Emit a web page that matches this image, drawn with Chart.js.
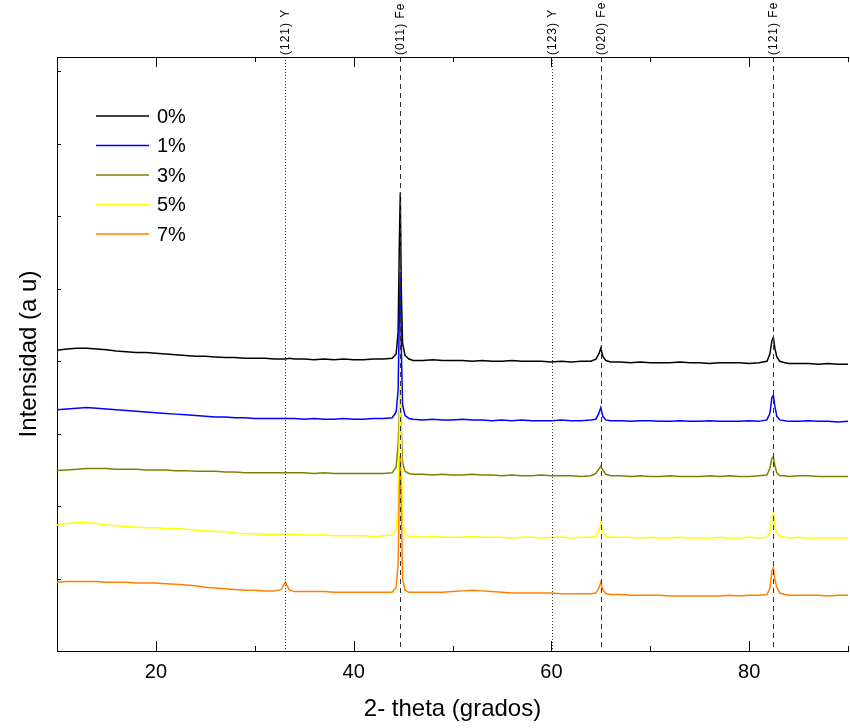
<!DOCTYPE html>
<html>
<head>
<meta charset="utf-8">
<script src="https://cdn.jsdelivr.net/npm/chart.js@4/dist/chart.umd.min.js"></script>
<style>
  body { margin: 0; background: #fff; }
  canvas { display: block; }
</style>
</head>
<body>
<canvas id="xrd" width="850" height="728"></canvas>
<script>
// 2-theta positions (degrees), shared by every pattern
var theta = [
  10, 11, 12, 13, 14, 15, 16, 17, 18, 19, 20, 21, 22, 23, 24, 25, 26, 27, 28, 29, 30, 31, 32,
  32.7, 33.1, 33.5,
  34, 35, 36, 37, 38, 39, 40, 41, 42, 43,
  43.9, 44.3, 44.5, 44.62, 44.72, 44.82, 44.95, 45.2, 45.6,
  46, 47, 48, 49, 50, 51, 52, 53, 54, 55, 56, 57, 58, 59, 60, 61, 62, 63, 64,
  64.5, 64.8, 65.0, 65.2, 65.5,
  66, 67, 68, 69, 70, 71, 72, 73, 74, 75, 76, 77, 78, 79, 80, 81,
  81.8, 82.1, 82.3, 82.45, 82.6, 82.8, 83.1, 83.6,
  84, 85, 86, 87, 88, 89, 90
];

var labels = ['0%', '1%', '3%', '5%', '7%'];
var colors = ['#000000', '#0000ff', '#808000', '#ffff00', '#ff8000'];

var int0 = [
  4.15, 4.17, 4.18, 4.18, 4.17, 4.16, 4.14, 4.13, 4.12, 4.12, 4.11, 4.10, 4.09, 4.08, 4.07, 4.07, 4.06, 4.05, 4.05, 4.04, 4.04, 4.04, 4.03,
  4.03, 4.03, 4.04,
  4.03, 4.03, 4.02, 4.03, 4.02, 4.03, 4.02, 4.02, 4.03, 4.03,
  4.04, 4.10, 4.40, 5.60, 6.33, 5.00, 4.25, 4.08, 4.03,
  4.01, 4.01, 4.02, 4.01, 4.01, 4.01, 4.00, 4.01, 4.00, 4.00, 4.01, 4.00, 4.00, 4.00, 3.99, 4.00, 3.99, 4.00, 4.00,
  4.03, 4.10, 4.18, 4.07, 4.01,
  3.99, 3.99, 3.98, 3.99, 3.98, 3.98, 3.98, 3.99, 3.98, 3.98, 3.97, 3.98, 3.98, 3.98, 3.97, 3.98,
  4.00, 4.10, 4.28, 4.33, 4.18, 4.06, 4.00, 3.98,
  3.97, 3.97, 3.97, 3.96, 3.97, 3.96, 3.96
];
var int1 = [
  3.33, 3.34, 3.35, 3.36, 3.35, 3.34, 3.33, 3.32, 3.31, 3.30, 3.29, 3.28, 3.27, 3.26, 3.25, 3.24, 3.23, 3.23, 3.22, 3.22, 3.21, 3.21, 3.21,
  3.21, 3.21, 3.21,
  3.21, 3.20, 3.21, 3.20, 3.20, 3.21, 3.20, 3.20, 3.21, 3.21,
  3.22, 3.30, 3.60, 4.60, 5.23, 4.20, 3.40, 3.25, 3.21,
  3.20, 3.19, 3.20, 3.19, 3.19, 3.20, 3.19, 3.19, 3.18, 3.19, 3.18, 3.19, 3.18, 3.18, 3.18, 3.19, 3.18, 3.18, 3.19,
  3.20, 3.28, 3.36, 3.24, 3.19,
  3.18, 3.18, 3.17, 3.18, 3.18, 3.17, 3.17, 3.18, 3.17, 3.17, 3.18, 3.17, 3.17, 3.17, 3.18, 3.17,
  3.19, 3.28, 3.50, 3.53, 3.38, 3.24, 3.19, 3.18,
  3.17, 3.17, 3.18, 3.17, 3.17, 3.16, 3.17
];
var int3 = [
  2.49, 2.50, 2.51, 2.52, 2.52, 2.52, 2.51, 2.51, 2.51, 2.50, 2.50, 2.50, 2.49, 2.49, 2.48, 2.48, 2.48, 2.47, 2.47, 2.46, 2.46, 2.46, 2.46,
  2.46, 2.46, 2.46,
  2.46, 2.46, 2.45, 2.46, 2.45, 2.45, 2.45, 2.45, 2.45, 2.45,
  2.46, 2.54, 2.85, 3.30, 3.61, 3.10, 2.60, 2.48, 2.45,
  2.44, 2.44, 2.43, 2.44, 2.43, 2.43, 2.44, 2.43, 2.43, 2.42, 2.43, 2.42, 2.42, 2.43, 2.42, 2.42, 2.42, 2.41, 2.42,
  2.45, 2.51, 2.55, 2.50, 2.44,
  2.42, 2.42, 2.41, 2.42, 2.41, 2.41, 2.42, 2.41, 2.41, 2.41, 2.42, 2.41, 2.42, 2.41, 2.41, 2.42,
  2.43, 2.52, 2.66, 2.68, 2.56, 2.46, 2.42, 2.42,
  2.41, 2.42, 2.42, 2.41, 2.41, 2.41, 2.41
];
var int5 = [
  1.74, 1.76, 1.77, 1.77, 1.76, 1.74, 1.73, 1.72, 1.71, 1.70, 1.70, 1.69, 1.69, 1.68, 1.67, 1.66, 1.65, 1.65, 1.63, 1.62, 1.62, 1.61, 1.61,
  1.61, 1.62, 1.61,
  1.61, 1.60, 1.60, 1.60, 1.59, 1.59, 1.59, 1.59, 1.58, 1.59,
  1.60, 1.68, 2.00, 3.00, 3.75, 2.90, 1.80, 1.62, 1.58,
  1.58, 1.57, 1.58, 1.57, 1.57, 1.57, 1.58, 1.57, 1.57, 1.57, 1.56, 1.57, 1.57, 1.56, 1.57, 1.57, 1.56, 1.57, 1.57,
  1.58, 1.66, 1.76, 1.64, 1.58,
  1.57, 1.57, 1.57, 1.56, 1.57, 1.56, 1.56, 1.57, 1.56, 1.56, 1.56, 1.57, 1.56, 1.56, 1.57, 1.56,
  1.57, 1.64, 1.86, 1.91, 1.72, 1.62, 1.58, 1.57,
  1.56, 1.57, 1.56, 1.56, 1.56, 1.56, 1.56
];
var int7 = [
  0.95, 0.96, 0.96, 0.96, 0.96, 0.95, 0.95, 0.95, 0.94, 0.94, 0.94, 0.93, 0.92, 0.91, 0.90, 0.88, 0.87, 0.86, 0.85, 0.84, 0.84, 0.83, 0.83,
  0.85, 0.95, 0.84,
  0.82, 0.82, 0.82, 0.82, 0.81, 0.81, 0.81, 0.81, 0.81, 0.81,
  0.81, 0.88, 1.20, 2.20, 2.70, 2.00, 1.00, 0.84, 0.81,
  0.81, 0.81, 0.81, 0.81, 0.82, 0.83, 0.84, 0.83, 0.82, 0.81, 0.80, 0.80, 0.80, 0.80, 0.80, 0.79, 0.79, 0.79, 0.79,
  0.80, 0.87, 0.95, 0.85, 0.79,
  0.78, 0.78, 0.77, 0.77, 0.77, 0.77, 0.76, 0.76, 0.76, 0.76, 0.76, 0.76, 0.77, 0.76, 0.77, 0.77,
  0.78, 0.86, 1.10, 1.15, 0.98, 0.88, 0.80, 0.78,
  0.77, 0.77, 0.77, 0.77, 0.76, 0.77, 0.77
];

// reference reflections drawn as vertical lines
var refPos = [33.1, 44.7, 60.1, 65.0, 82.4];
var refText = ['(121) Y', '(011) Fe', '(123) Y', '(020) Fe', '(121) Fe'];
var refDotted = [true, false, true, false, false];

var series = [int0, int1, int3, int5, int7];

var datasets = series.map(function(s, i) {
  return {
    label: labels[i],
    data: s.map(function(v, j) { return {x: theta[j], y: v}; }),
    borderColor: colors[i],
    backgroundColor: colors[i],
    borderWidth: 1.5,
    pointRadius: 0,
    tension: 0,
    order: series.length - i
  };
});

var decor = {
  id: 'decor',
  afterDatasetsDraw: function(chart) {
    var c = chart.ctx, a = chart.chartArea;
    var xs = chart.scales.x, ys = chart.scales.y;
    c.save();

    // reference lines + labels
    refPos.forEach(function(p, i) {
      var px = Math.round(xs.getPixelForValue(p)) + 0.5;
      c.strokeStyle = '#333';
      c.lineWidth = 1;
      c.setLineDash(refDotted[i] ? [1, 2] : [5, 4]);
      c.beginPath();
      c.moveTo(px, a.top);
      c.lineTo(px, a.bottom);
      c.stroke();
      c.setLineDash([]);
      c.save();
      c.translate(px + 3, a.top - 2);
      c.rotate(-Math.PI / 2);
      c.fillStyle = '#000';
      c.font = '12px Arial, "Liberation Sans", sans-serif';
      c.letterSpacing = '1px';
      c.textAlign = 'left';
      c.textBaseline = 'alphabetic';
      c.fillText(refText[i], 0, 0);
      c.restore();
    });

    // frame: top line and inward ticks
    c.strokeStyle = '#000';
    c.lineWidth = 1;
    c.beginPath();
    c.moveTo(a.left, a.top + 0.5);
    c.lineTo(a.right, a.top + 0.5);
    for (var v = 20; v <= 90; v += 10) {
      var tx = Math.round(xs.getPixelForValue(v)) + 0.5;
      var len = (v % 20 === 0) ? 10 : 5;
      c.moveTo(tx, a.bottom);
      c.lineTo(tx, a.bottom - len);
      c.moveTo(tx, a.top);
      c.lineTo(tx, a.top + len);
    }
    for (var k = 1; k <= 8; k++) {
      var ty = Math.round(ys.getPixelForValue(k)) + 0.5;
      c.moveTo(a.left, ty);
      c.lineTo(a.left + 4, ty);
    }
    c.stroke();

    // legend inside the plot
    c.font = '20px Arial, "Liberation Sans", sans-serif';
    c.textBaseline = 'middle';
    c.textAlign = 'left';
    chart.data.datasets.forEach(function(d, i) {
      var ly = 116 + i * 29.5;
      c.strokeStyle = d.borderColor;
      c.lineWidth = 1.3;
      c.beginPath();
      c.moveTo(96, ly);
      c.lineTo(149, ly);
      c.stroke();
      c.fillStyle = '#000';
      c.fillText(d.label, 157, ly + 1);
    });
    c.restore();
  }
};

var ctx = document.getElementById('xrd');
var xrdChart = new Chart(ctx, {
  type: 'line',
  data: { datasets: datasets },
  options: {
    responsive: false,
    animation: false,
    layout: { padding: { top: 57, right: 2, left: 0, bottom: 0 } },
    plugins: { legend: { display: false }, tooltip: { enabled: false } },
    scales: {
      x: {
        type: 'linear',
        min: 10,
        max: 90,
        grid: { display: false, drawTicks: false },
        border: { color: '#000', width: 1 },
        ticks: {
          stepSize: 10,
          padding: 9,
          autoSkip: false,
          color: '#000',
          font: { family: 'Arial, "Liberation Sans", sans-serif', size: 20 },
          maxRotation: 0,
          callback: function(v) { return (v % 20 === 0) ? String(v) : ''; }
        },
        title: {
          display: true,
          text: '2- theta (grados)',
          color: '#000',
          font: { family: 'Arial, "Liberation Sans", sans-serif', size: 24 },
          padding: { top: 0, bottom: 4 }
        },
        afterFit: function(s) { s.height = 77; s.paddingRight = 0; s.paddingLeft = 0; }
      },
      y: {
        min: 0,
        max: 8.2,
        grid: { display: false, drawTicks: false },
        border: { color: '#000', width: 1 },
        ticks: { display: false, stepSize: 1 },
        title: {
          display: true,
          text: 'Intensidad (a u)',
          color: '#000',
          font: { family: 'Arial, "Liberation Sans", sans-serif', size: 24 },
          padding: { top: 15, bottom: 0 }
        },
        afterFit: function(s) { s.width = 57; }
      }
    }
  },
  plugins: [decor]
});
</script>
</body>
</html>
